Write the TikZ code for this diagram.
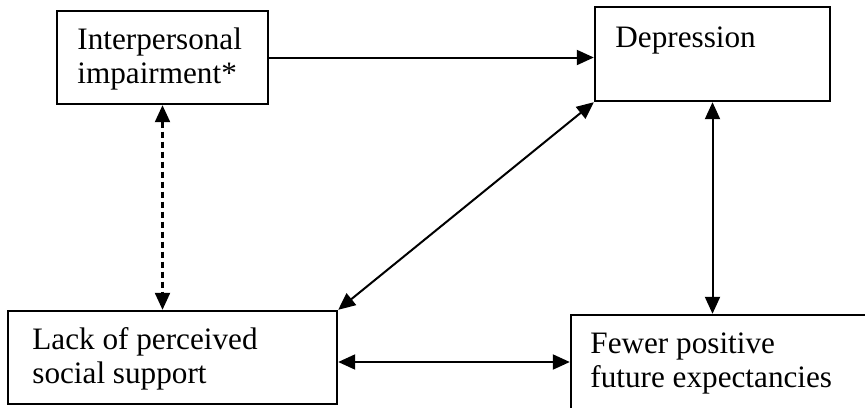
\documentclass[tikz,border=0pt]{standalone}
\usepackage{fontspec}
\setmainfont{Liberation Serif}
\usetikzlibrary{arrows.meta}
\begin{document}
\begin{tikzpicture}[x=0.5pt,y=-0.5pt,
  box/.style={draw=black, line width=1.2pt, rectangle, inner sep=0pt},
  lbl/.style={inner sep=0pt, align=left, anchor=base west,
    font=\fontsize{15.6pt}{16.6pt}\selectfont},
  tip/.style={Triangle[length=8.5pt,width=7.5pt]},
  arr/.style={line width=1pt, -{Triangle[length=8.5pt,width=7.5pt]}},
  darr/.style={line width=1pt, {Triangle[length=8.5pt,width=7.5pt]}-{Triangle[length=8.5pt,width=7.5pt]}},
  dashdarr/.style={darr, line width=1.1pt, dash pattern=on 3pt off 2pt}]
\clip (0,0) rectangle (865,407);
\fill[white] (0,0) rectangle (865,407);
% boxes
\node[box, minimum width=105.5pt, minimum height=46.5pt] (imp) at (162.5,57.5) {};
\node[box, minimum width=117.5pt, minimum height=47pt] (dep) at (712.5,54) {};
\node[box, minimum width=164.5pt, minimum height=46.5pt] (lack) at (172.5,357.5) {};
\node[box, minimum width=175pt, minimum height=60pt] (few) at (746,375) {};
% texts
\node[lbl] (impT) at (77,83) {Interpersonal\\impairment*};
\node[lbl] (depT) at (615,47) {Depression};
\node[lbl] (lackT) at (32,383) {Lack of perceived\\social support};
\node[lbl] (fewT) at (590,387) {Fewer positive\\future expectancies};
% connectors
\draw[arr] (imp.east) -- (imp.east -| dep.west);
\draw[darr] (dep.south west) -- (lack.north east);
\draw[darr] (dep.south) -- (dep.south |- few.north);
\draw[dashdarr] (imp.south) -- (imp.south |- lack.north);
\draw[darr] ([yshift=-2.25pt]lack.east) -- ([yshift=-2.25pt]lack.east -| few.west);
\end{tikzpicture}
\end{document}
